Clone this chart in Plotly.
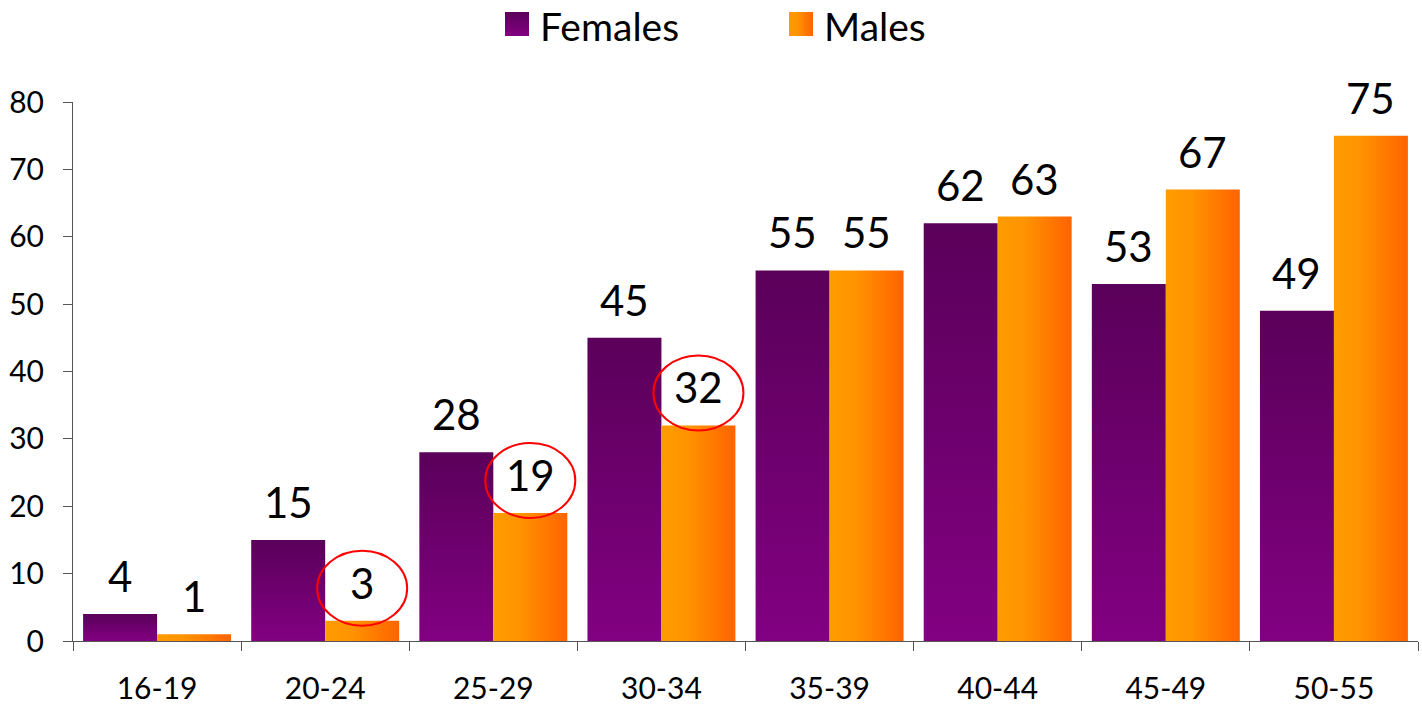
import plotly.graph_objects as go

# Age bands and values per series
categories = ["16-19", "20-24", "25-29", "30-34", "35-39", "40-44", "45-49", "50-55"]
females = [4, 15, 28, 45, 55, 62, 53, 49]
males = [1, 3, 19, 32, 55, 63, 67, 75]
# male bars whose labels get a red ring
highlighted_males = ["20-24", "25-29", "30-34"]

# ---- styling ----
FONT = "Lato"
BAR_W = 0.44
FEMALE_SCALE = [[0, "#820082"], [1, "#5a005a"]]           # bottom -> top
MALE_SCALE = [[0, "#ff9c00"], [0.35, "#ff9400"], [1, "#ff6300"]]  # left -> right
AXIS_COLOR = "#555555"

W, H = 1422, 706
M_L, M_R, M_T, M_B = 73, 4, 0, 65
PLOT_H = H - M_T - M_B
Y_TOP_PX = 102  # pixel row of the top of the value axis

fig = go.Figure()

series = [
    ("Females", females, -BAR_W, FEMALE_SCALE, "vertical"),
    ("Males", males, 0.0, MALE_SCALE, "horizontal"),
]

annotations = []
shapes = []

for name, values, offset, scale, direction in series:
    for i, (cat, v) in enumerate(zip(categories, values)):
        x0 = i + offset
        x1 = x0 + BAR_W
        fig.add_trace(go.Scatter(
            x=[x0, x0, x1, x1, x0], y=[0, v, v, 0, 0],
            fill="toself", mode="lines", line=dict(width=0),
            fillgradient=dict(type=direction, colorscale=scale),
            name=name, showlegend=False, hoverinfo="skip",
        ))
        xc = (x0 + x1) / 2
        annotations.append(dict(
            x=xc, y=v, xref="x", yref="y", text=str(v), showarrow=False,
            yanchor="bottom", yshift=11, font=dict(family=FONT, size=42, color="black"),
        ))
        if name == "Males" and cat in highlighted_males:
            shapes.append(dict(
                type="circle", xref="x", yref="y",
                xsizemode="pixel", ysizemode="pixel",
                xanchor=xc, yanchor=v, x0=-45, x1=45, y0=-5, y1=70,
                line=dict(color="#ff0000", width=2), fillcolor="rgba(0,0,0,0)",
            ))

# ---- legend drawn on a pixel-unit overlay axis ----
legend_items = [("Females", 505, FEMALE_SCALE, "vertical"),
                ("Males", 789, MALE_SCALE, "horizontal")]
SQ = 24
SQ_TOP = 12
for label, lx, scale, direction in legend_items:
    ytop = PLOT_H - SQ_TOP
    ybot = ytop - SQ
    fig.add_trace(go.Scatter(
        x=[lx, lx, lx + SQ, lx + SQ, lx], y=[ybot, ytop, ytop, ybot, ybot],
        xaxis="x2", yaxis="y2", fill="toself", mode="lines", line=dict(width=0),
        fillgradient=dict(type=direction, colorscale=scale),
        showlegend=False, hoverinfo="skip",
    ))
    annotations.append(dict(
        x=lx + SQ + 9, y=PLOT_H - 26, xref="x2", yref="y2", text=label,
        showarrow=False, xanchor="left", yanchor="middle",
        font=dict(family=FONT, size=39, color="black"),
    ))

fig.update_layout(
    width=W, height=H,
    margin=dict(l=M_L, r=M_R, t=M_T, b=M_B, autoexpand=False),
    paper_bgcolor="white", plot_bgcolor="rgba(0,0,0,0)",
    showlegend=False,
    annotations=annotations, shapes=shapes,
    xaxis=dict(
        range=[-0.5, len(categories) - 0.5], automargin=False,
        tickmode="array", tickvals=list(range(len(categories))), ticktext=categories,
        ticks="", showgrid=False, zeroline=False,
        showline=True, linecolor=AXIS_COLOR, linewidth=1,
        tickfont=dict(family=FONT, size=30, color="black"),
        ticklabelstandoff=21,
        minor=dict(tickmode="array",
                   tickvals=[i - 0.5 for i in range(len(categories) + 1)],
                   ticks="outside", ticklen=9, tickcolor=AXIS_COLOR, tickwidth=1,
                   showgrid=False),
    ),
    yaxis=dict(
        range=[0, 80], dtick=10, domain=[0, (PLOT_H - Y_TOP_PX) / PLOT_H],
        automargin=False,
        ticks="outside", ticklen=9, tickcolor=AXIS_COLOR, tickwidth=1,
        showline=True, linecolor=AXIS_COLOR, linewidth=1,
        showgrid=False, zeroline=False,
        tickfont=dict(family=FONT, size=30, color="black"),
        ticklabelstandoff=13,
    ),
    xaxis2=dict(domain=[0, 1], range=[M_L, W - M_R], visible=False, anchor="y2",
                fixedrange=True, automargin=False),
    yaxis2=dict(domain=[0, 1], range=[0, PLOT_H], visible=False, anchor="x2",
                fixedrange=True, automargin=False),
)

fig.write_html("out.html")
